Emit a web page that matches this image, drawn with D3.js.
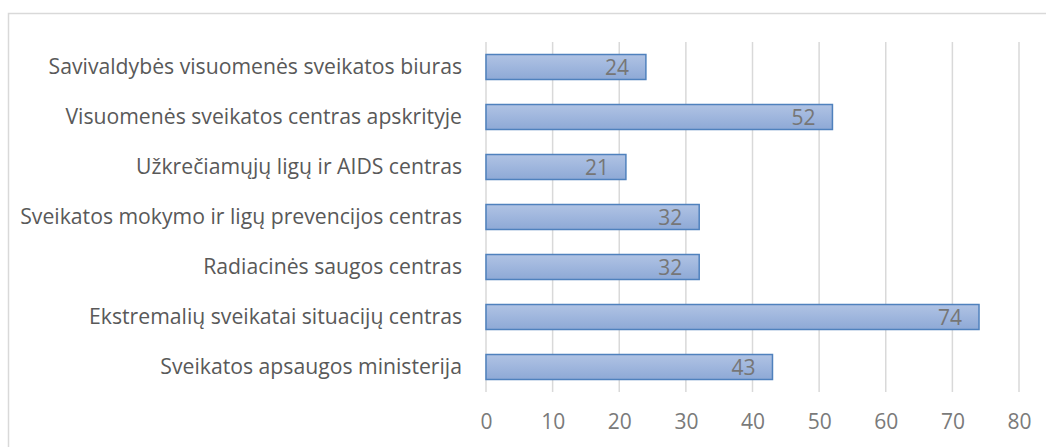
<!DOCTYPE html>
<html>
<head>
<meta charset="utf-8">
<script src="https://cdn.jsdelivr.net/npm/d3@7"></script>
<style>
  body { margin: 0; background: #fff; }
  text { font-family: "Open Sans", sans-serif; }
</style>
</head>
<body>
<div id="chart"></div>
<script>
const categories = [
  "Savivaldybės visuomenės sveikatos biuras",
  "Visuomenės sveikatos centras apskrityje",
  "Užkrečiamųjų ligų ir AIDS centras",
  "Sveikatos mokymo ir ligų prevencijos centras",
  "Radiacinės saugos centras",
  "Ekstremalių sveikatai situacijų centras",
  "Sveikatos apsaugos ministerija"
];
const values = [24, 52, 21, 32, 32, 74, 43];
const ticks = [0, 10, 20, 30, 40, 50, 60, 70, 80];

const W = 1046, H = 447;
const margin = { top: 42, right: 27, bottom: 55, left: 486 };

const svg = d3.select("#chart")
  .append("svg")
  .attr("width", W)
  .attr("height", H);

// outer frame
svg.append("rect")
  .attr("x", 8.5).attr("y", 13.5)
  .attr("width", W).attr("height", H)
  .attr("fill", "none")
  .attr("stroke", "#d9d9d9")
  .attr("stroke-width", 1.5);

const defs = svg.append("defs");
const grad = defs.append("linearGradient")
  .attr("id", "barGrad")
  .attr("x1", 0).attr("y1", 0).attr("x2", 0).attr("y2", 1);
grad.append("stop").attr("offset", "0%").attr("stop-color", "#b0c3e4");
grad.append("stop").attr("offset", "100%").attr("stop-color", "#8ea9d6");

const x = d3.scaleLinear()
  .domain([0, 80])
  .range([margin.left, W - margin.right]);

const y = d3.scaleBand()
  .domain(categories)
  .range([margin.top, H - margin.bottom])
  .paddingInner(0.5)
  .paddingOuter(0.25);

// gridlines
svg.append("g")
  .selectAll("line")
  .data(ticks)
  .join("line")
  .attr("x1", d => x(d)).attr("x2", d => x(d))
  .attr("y1", margin.top).attr("y2", H - margin.bottom)
  .attr("stroke", "#d9d9d9")
  .attr("stroke-width", 1.5);

// bars
svg.append("g")
  .selectAll("rect")
  .data(values)
  .join("rect")
  .attr("x", x(0))
  .attr("y", (d, i) => y(categories[i]))
  .attr("width", d => x(d) - x(0))
  .attr("height", y.bandwidth())
  .attr("fill", "url(#barGrad)")
  .attr("stroke", "#4f81bd")
  .attr("stroke-width", 1.5);

// value labels
svg.append("g")
  .selectAll("text")
  .data(values)
  .join("text")
  .attr("x", d => x(d) - 17)
  .attr("y", (d, i) => y(categories[i]) + y.bandwidth() / 2)
  .attr("dy", "0.36em")
  .attr("text-anchor", "end")
  .attr("fill", "#767676")
  .style("font-size", "21px")
  .text(d => d);

// category axis
svg.append("g")
  .attr("transform", `translate(${margin.left - 24},0)`)
  .call(d3.axisLeft(y).tickSize(0).tickPadding(0))
  .call(g => g.select(".domain").remove())
  .selectAll("text")
  .attr("fill", "#595959")
  .style("font-size", "21.2px");

// value axis
svg.append("g")
  .attr("transform", `translate(0,${H - margin.bottom + 22})`)
  .call(d3.axisBottom(x).tickValues(ticks).tickSize(0).tickPadding(0))
  .call(g => g.select(".domain").remove())
  .selectAll("text")
  .attr("fill", "#7a7a7a")
  .style("font-size", "21px");
</script>
</body>
</html>
